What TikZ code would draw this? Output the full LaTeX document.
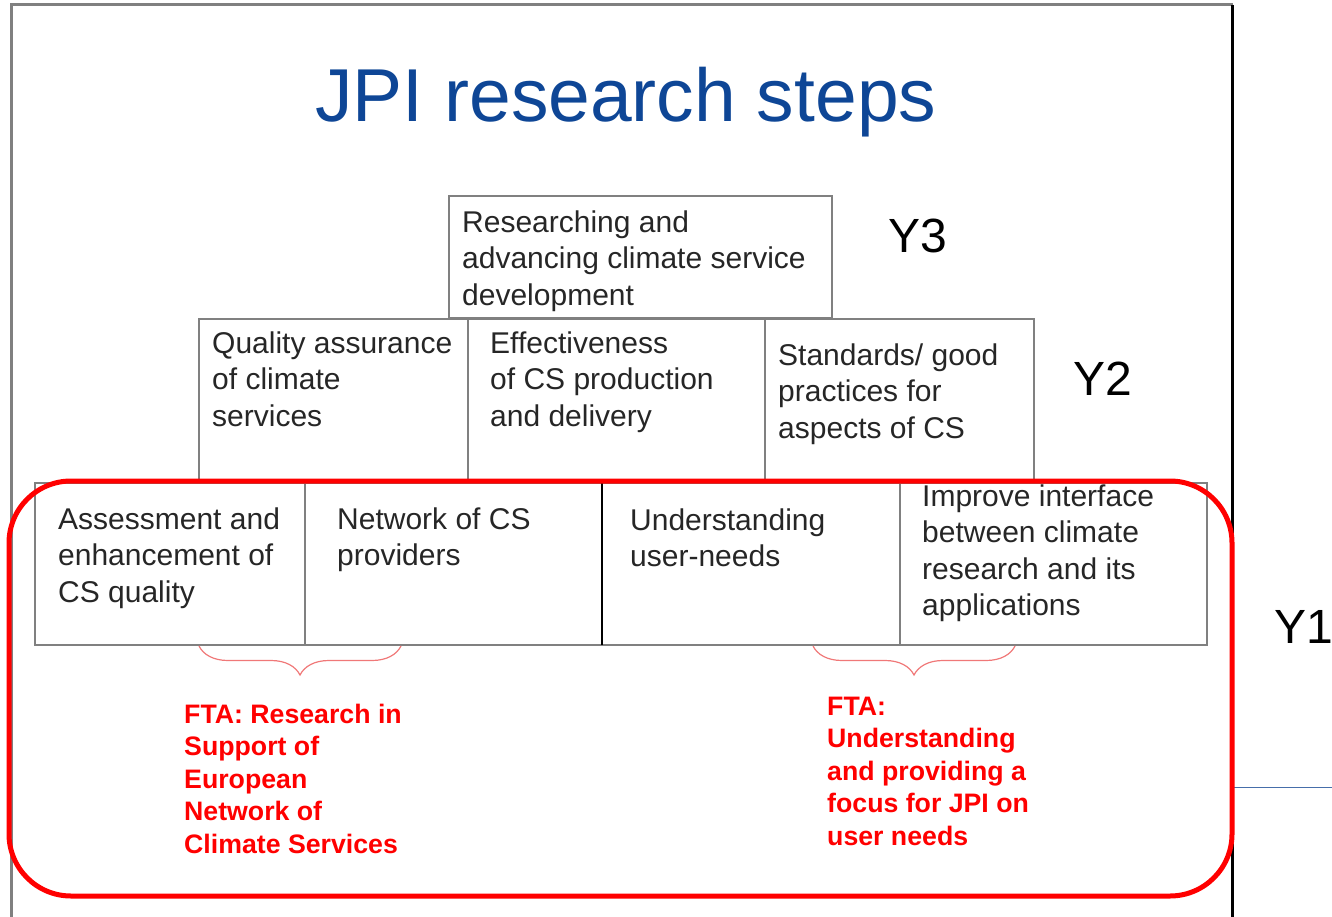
\documentclass[tikz,border=0pt]{standalone}
\usepackage{fontspec}
\setmainfont{Liberation Sans}
\usetikzlibrary{positioning,decorations.pathreplacing}
\definecolor{jpiblue}{RGB}{14,70,150}
\definecolor{boxgray}{RGB}{128,128,128}
\definecolor{textgray}{RGB}{38,38,38}
\definecolor{bracered}{RGB}{240,120,120}
\definecolor{edgeblue}{RGB}{70,110,170}
\begin{document}
\begin{tikzpicture}[x=1pt,y=-1pt,
      box/.style={draw=boxgray,line width=2pt,outer sep=0pt,inner sep=0pt},
      boxtext/.style={anchor=base west,align=left,inner sep=0pt,text=textgray,
         font=\fontsize{30}{36.5}\selectfont},
      ftatext/.style={anchor=base west,align=left,inner sep=0pt,text=red,
         font=\bfseries\fontsize{26.7}{32.5}\selectfont},
      ylabel/.style={anchor=base west,inner sep=0pt,font=\fontsize{48}{50}\selectfont},
      ftabrace/.style={draw=bracered,line width=1.2pt,decorate,
         decoration={brace,mirror,amplitude=29pt}}]
      \useasboundingbox(0,0)rectangle(1332,917);
      % page frame
      \draw[boxgray,line width=3pt](11,917)--(11,5)--(1233,5);
      \draw[line width=3pt](1232,5)--(1232,917);
      \draw[edgeblue,line width=1pt](1234,787)--(1332,787);
      \node[anchor=base west,inner sep=0pt,text=jpiblue,font=\fontsize{75}{80}\selectfont]
         (title) at (315,122){JPI research steps};
      % Y3
      \node[box,anchor=north west,minimum width=383pt,minimum height=122pt](rsd) at (449,196){};
      % Y2
      \node[box,anchor=north west,minimum width=269pt,minimum height=161pt](qa) at (199,319){};
      \node[box,minimum width=297pt,minimum height=161pt,right=0pt of qa](eff){};
      \node[box,minimum width=269pt,minimum height=161pt,right=0pt of eff](std){};
      % Y1
      \node[box,anchor=north west,minimum width=270pt,minimum height=162pt](ass) at (35,483){};
      \node[box,minimum width=297pt,minimum height=162pt,right=0pt of ass](net){};
      \node[box,minimum width=298pt,minimum height=162pt,right=0pt of net](usr){};
      \node[box,minimum width=307pt,minimum height=162pt,right=0pt of usr](imp){};
      \draw[line width=2pt](usr.north west)--(usr.south west);
      % box texts (base = last line)
      \node[boxtext](rsd-t) at ([shift={(13pt,-109pt)}]rsd.north west)
         {Researching and\\advancing climate service\\development};
      \node[boxtext](qa-t) at ([shift={(13pt,-107pt)}]qa.north west)
         {Quality assurance\\of climate\\services};
      \node[boxtext](eff-t) at ([shift={(22pt,-107pt)}]eff.north west)
         {Effectiveness\\of CS production\\and delivery};
      \node[boxtext](std-t) at ([shift={(13pt,-119pt)}]std.north west)
         {Standards/ good\\practices for\\aspects of CS};
      \node[boxtext](ass-t) at ([shift={(23pt,-119pt)}]ass.north west)
         {Assessment and\\enhancement of\\CS quality};
      \node[boxtext](net-t) at ([shift={(32pt,-82.5pt)}]net.north west)
         {Network of CS\\providers};
      \node[boxtext](usr-t) at ([shift={(28pt,-83.5pt)}]usr.north west)
         {Understanding\\user-needs};
      \node[boxtext](imp-t) at ([shift={(22pt,-132.5pt)}]imp.north west)
         {Improve interface\\between climate\\research and its\\applications};
      % year labels
      \node[ylabel](y3) at (888,252){Y3};
      \node[ylabel](y2) at (1073,395){Y2};
      \node[ylabel](y1) at (1274,643){Y1};
      % FTA braces
      \coordinate(b1l) at (199,646);\coordinate(b1r) at (401,646);
      \coordinate(b2l) at (813,646);\coordinate(b2r) at (1015,646);
      \draw[ftabrace](b1l)--(b1r);
      \draw[ftabrace](b2l)--(b2r);
      \node[ftatext](fta1) at (184,853)
         {FTA: Research in\\Support of\\European\\Network of\\Climate Services};
      \node[ftatext](fta2) at (827,845)
         {FTA:\\Understanding\\and providing a\\focus for JPI on\\user needs};
      % Y1 frame
      \draw[red,line width=5pt,rounded corners=62pt](9,481)rectangle(1232,896);
    \end{tikzpicture}
\end{document}
